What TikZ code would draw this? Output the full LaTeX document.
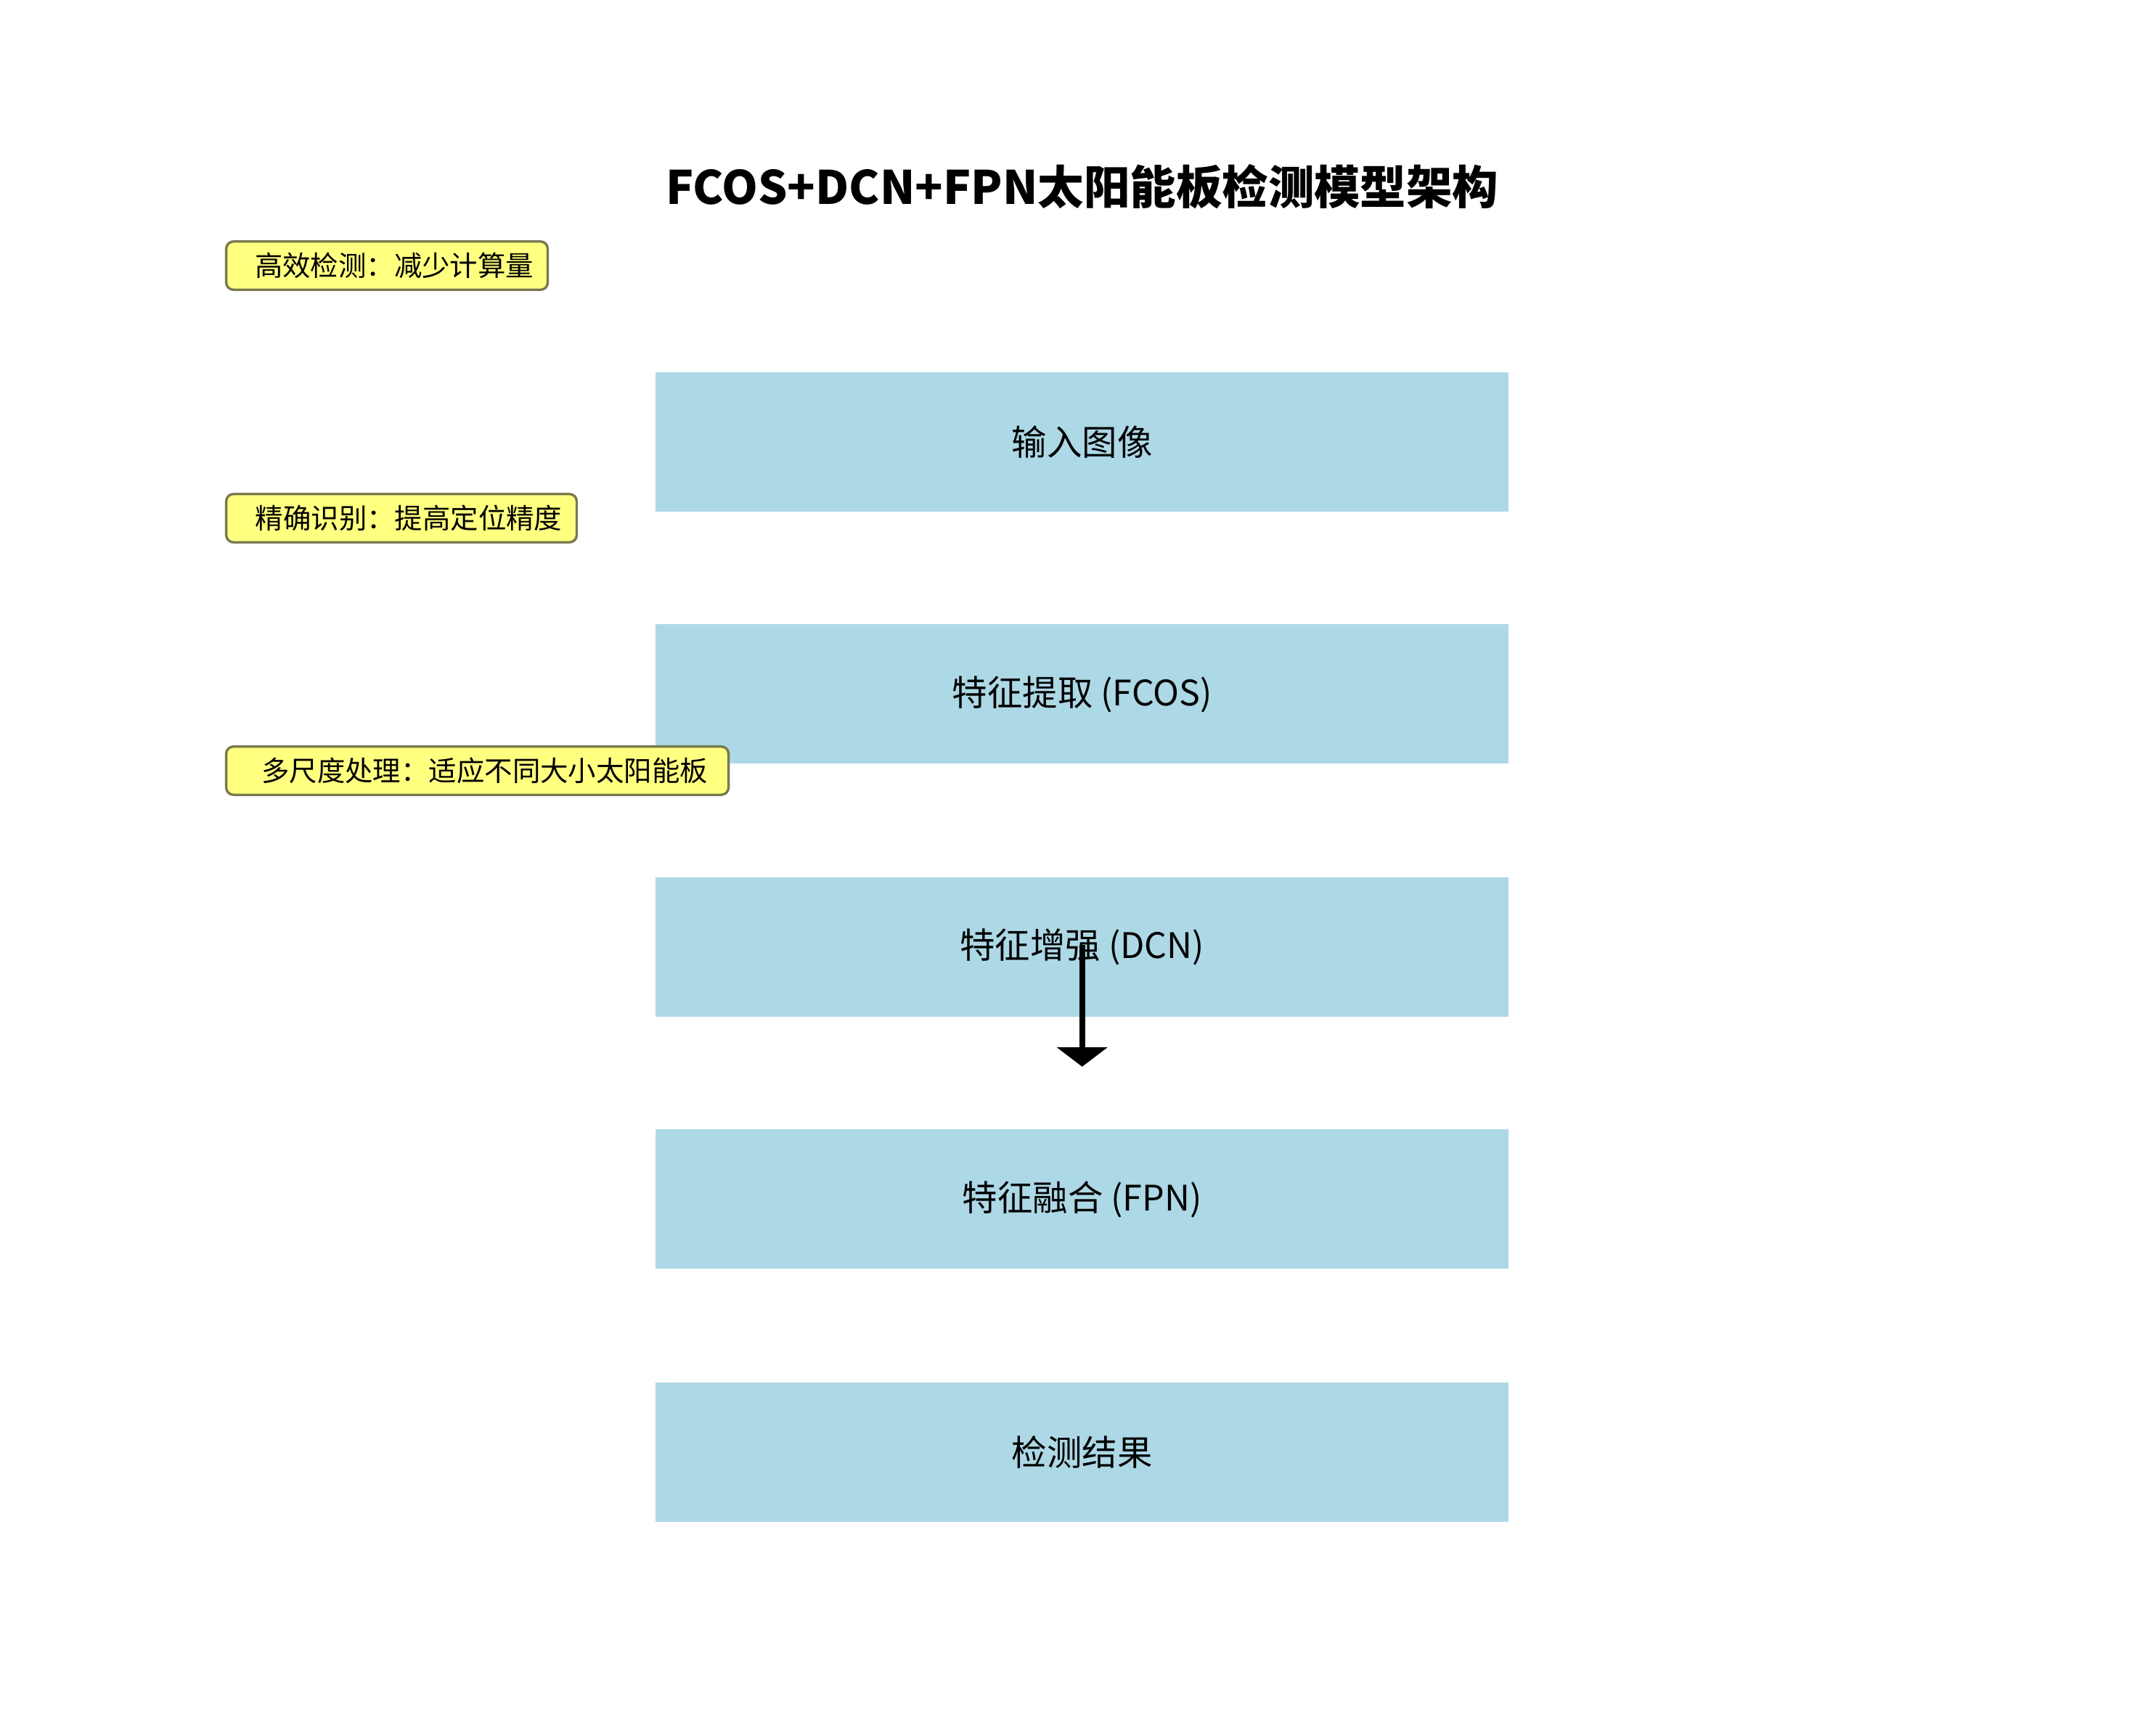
\documentclass[tikz,border=0pt]{standalone}
\usepackage{fontspec}
\usetikzlibrary{arrows.meta}
\setmainfont{Noto Sans CJK SC}
\begin{document}
\begin{tikzpicture}[x=0.02cm,y=-0.02cm,
  box/.style={fill={rgb,255:red,173;green,216;blue,230},draw=none,minimum width=12.36cm,minimum height=2.02cm,inner sep=0pt,font=\fontsize{14.5}{17}\selectfont},
  note/.style={fill={rgb,255:red,255;green,255;blue,128},draw={rgb,255:red,120;green,120;blue,80},line width=1pt,rounded corners=3pt,anchor=west,inner sep=0pt,minimum height=0.7cm,font=\fontsize{11.5}{14}\selectfont}]
\useasboundingbox (0,0) rectangle (1562,1246);
\node[font=\fontsize{19}{22}\selectfont\bfseries] (title) at (784,135) {FCOS+DCN+FPN太阳能板检测模型架构};
\node[box] (b1) at (784,320.5) {输入图像};
\node[box] (b2) at (784,503) {特征提取 (FCOS)};
\node[box] (b3) at (784,686.5) {特征增强 (DCN)};
\node[box] (b4) at (784,869) {特征融合 (FPN)};
\node[box] (b5) at (784,1052.5) {检测结果};
\coordinate (a1) at (784,685);
\coordinate (a2) at (784,773);
\draw[line width=2.5pt,-{Triangle[width=0.72cm,length=0.28cm]}] (a1) -- (a2);
\node[note,minimum width=4.66cm] (n1) at (163,192.5) {\hspace{6pt}高效检测：减少计算量\hfill};
\node[note,minimum width=5.08cm] (n2) at (163,375.5) {\hspace{6pt}精确识别：提高定位精度\hfill};
\node[note,minimum width=7.28cm] (n3) at (163,558.5) {\hspace{6pt}多尺度处理：适应不同大小太阳能板\hfill};
\end{tikzpicture}
\end{document}
